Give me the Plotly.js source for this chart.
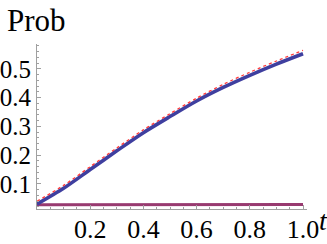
<!DOCTYPE html>
<html>
<head>
<meta charset="utf-8">
<script src="https://cdn.plot.ly/plotly-3.0.1.min.js"></script>
<style>html,body{margin:0;padding:0;background:#fff;}#chart{width:327px;height:244px;}</style>
</head>
<body>
<div id="chart"></div>
<script>
const tValues = [0, 0.1, 0.2, 0.3, 0.4, 0.5, 0.6, 0.7, 0.8, 0.9, 1.0];
const probBlue = [0.030, 0.085, 0.150, 0.215, 0.278, 0.334, 0.388, 0.435, 0.477, 0.516, 0.552];
const probRed = [0.040, 0.095, 0.160, 0.225, 0.288, 0.344, 0.398, 0.446, 0.488, 0.527, 0.564];
const probPurple = [0.028, 0.028, 0.028, 0.028, 0.028, 0.028, 0.028, 0.028, 0.028, 0.028, 0.029];
const xTickVals = [0.2, 0.4, 0.6, 0.8, 1.0];
const xTickText = ['0.2', '0.4', '0.6', '0.8', '1.0'];
const yTickVals = [0.1, 0.2, 0.3, 0.4, 0.5];
const yTickText = ['0.1', '0.2', '0.3', '0.4', '0.5'];

const serif = 'Liberation Serif';

const traces = [
  {x: tValues, y: probPurple, mode: 'lines', line: {color: '#983a70', width: 3}, hoverinfo: 'skip'},
  {x: tValues, y: probBlue, mode: 'lines', line: {color: '#3f3f9f', width: 3.6, shape: 'spline', smoothing: 0.8}, hoverinfo: 'skip'},
  {x: tValues, y: probRed, mode: 'lines', line: {color: '#ff3a3a', width: 1.3, dash: '3px,3px', shape: 'spline', smoothing: 0.8}, hoverinfo: 'skip'}
];

const layout = {
  width: 327, height: 244,
  font: {family: serif, size: 26, color: '#000000'},
  margin: {l: 37, r: 20, t: 44, b: 35},
  paper_bgcolor: '#fff', plot_bgcolor: '#fff',
  showlegend: false,
  xaxis: {
    showgrid: false, zeroline: false, showline: true, linecolor: '#a0a0a0', linewidth: 1,
    ticks: 'inside', tickcolor: '#a0a0a0', ticklen: 4, tickwidth: 1,
    tickfont: {family: serif, size: 26, color: '#000000'}, ticklabelstandoff: -3,
    tickmode: 'array', tickvals: xTickVals, ticktext: xTickText,
    range: [0, 1.015], fixedrange: true,
    minor: {dtick: 0.05, tick0: 0, ticks: 'inside', ticklen: 2, tickcolor: '#a0a0a0'}
  },
  yaxis: {
    showgrid: false, zeroline: false, showline: true, linecolor: '#a0a0a0', linewidth: 1,
    ticks: 'inside', tickcolor: '#a0a0a0', ticklen: 4, tickwidth: 1,
    tickfont: {family: serif, size: 25, color: '#000000'},
    tickmode: 'array', tickvals: yTickVals, ticktext: yTickText,
    range: [0.013, 0.586], fixedrange: true,
    minor: {dtick: 0.02, tick0: 0, ticks: 'inside', ticklen: 2, tickcolor: '#a0a0a0'}
  },
  annotations: [
    {text: 'Prob', xref: 'paper', yref: 'paper', x: 0, y: 1, xanchor: 'left', yanchor: 'bottom',
     xshift: -32, yshift: 4, showarrow: false,
     font: {family: serif, size: 31, color: '#000'}},
    {text: '<i>t</i>', xref: 'paper', yref: 'paper', x: 1, y: 0, xanchor: 'center', yanchor: 'middle',
     xshift: 16, yshift: -11, showarrow: false,
     font: {family: serif, size: 28, color: '#000'}}
  ]
};

Plotly.newPlot('chart', traces, layout, {staticPlot: true, displayModeBar: false});
</script>
</body>
</html>
